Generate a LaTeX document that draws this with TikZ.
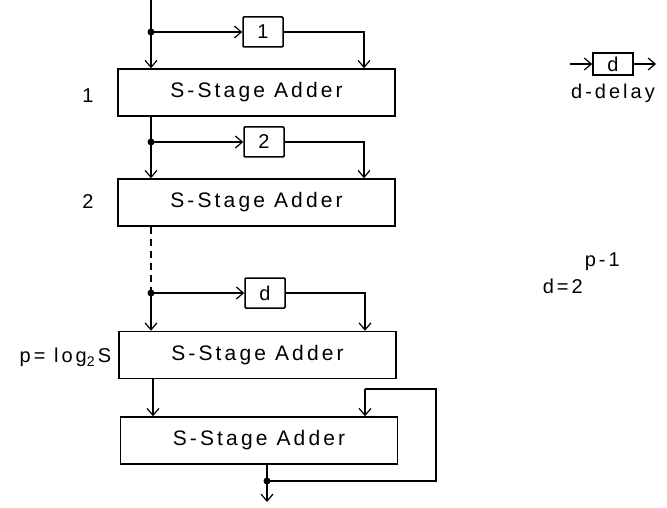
\documentclass[tikz,border=0pt]{standalone}
\usepackage{fontspec}
\setmainfont{Liberation Sans}[LetterSpace=15]
\usetikzlibrary{arrows.meta,calc}
\begin{document}
\begin{tikzpicture}[x=1pt,y=-1pt,line width=1.5pt,
  every node/.style={font=\fontsize{20}{22}\selectfont, inner sep=0pt},
  adder/.style={draw, minimum width=277pt, minimum height=47pt, font=\fontsize{21}{23}\selectfont},
  delaybox/.style={draw, minimum width=40pt, minimum height=30pt, rounded corners=1pt},
  arr/.style={-{Straight Barb[length=7pt,width=12pt,line width=1.2pt]}}]
\useasboundingbox (0,0) rectangle (667,508);
% adders
\node[adder] (A1) at (256.5,92.5) {S-Stage Adder};
\node[adder] (A2) at (256.5,202.5) {S-Stage Adder};
\node[adder] (A3) at (257.5,355) {S-Stage Adder};
\node[adder] (A4) at (259,440.5) {S-Stage Adder};
% delays
\node[delaybox] (D1) at (263,32) {1};
\node[delaybox] (D2) at (264,142) {2};
\node[delaybox] (D3) at (265,293) {d};
% junctions and helper coordinates
\coordinate (in) at (151,0);
\coordinate (J1) at (151,32);
\coordinate (J2) at (151,142);
\coordinate (J3) at (151,293);
\coordinate (J4) at (267,481);
\coordinate (out) at (267,502);
\coordinate (R1) at (364,0);
\coordinate (R2) at (364,0);
\coordinate (R3) at (365,0);
\coordinate (L3) at (153,0);
\coordinate (FB) at (436,389);
\coordinate (FT) at (365,389);
% stage 1
\draw (in) -- (J1);
\draw[arr] (J1) -- (J1 |- A1.north);
\draw[arr] (J1) -- (D1.west);
\draw[arr] (D1.east) -| (R1 |- A1.north);
\fill (J1) circle (3.5pt);
% stage 2
\draw (J1 |- A1.south) -- (J2);
\draw[arr] (J2) -- (J2 |- A2.north);
\draw[arr] (J2) -- (D2.west);
\draw[arr] (D2.east) -| (R2 |- A2.north);
\fill (J2) circle (3.5pt);
% stage p
\draw[dash pattern=on 7pt off 5pt] (J2 |- A2.south) -- (J3);
\draw[arr] (J3) -- (J3 |- A3.north);
\draw[arr] (J3) -- (D3.west);
\draw[arr] (D3.east) -| (R3 |- A3.north);
\fill (J3) circle (3.5pt);
% final adder
\draw[arr] (L3 |- A3.south) -- (L3 |- A4.north);
\draw (J4 |- A4.south) -- (J4);
\draw[arr] (J4) -- (out);
\draw (J4) -| (FB) -- (FT);
\draw[arr] (FT) -- (FT |- A4.north);
\fill (J4) circle (3.5pt);
% labels
\node (l1) at (88,96) {1};
\node (l2) at (88,202) {2};
\node[anchor=east] (lp) at (112,357) {p=\ log\raisebox{-0.4ex}{\fontsize{14}{15}\selectfont 2}\,S};
% legend
\node[draw, minimum width=40pt, minimum height=22pt] (LD) at (613,64) {d};
\coordinate (Lin) at (570,64);
\coordinate (Lout) at (656,64);
\draw[arr, line width=1.2pt] (Lin) -- (LD.west);
\draw[arr, line width=1.2pt] (LD.east) -- (Lout);
\node (ldel) at (613,93) {d-delay};
\node[anchor=west] (deq) at (542,286) {d=2};
\node[anchor=west] (dexp) at (584,262) {p-1};
\end{tikzpicture}
\end{document}
